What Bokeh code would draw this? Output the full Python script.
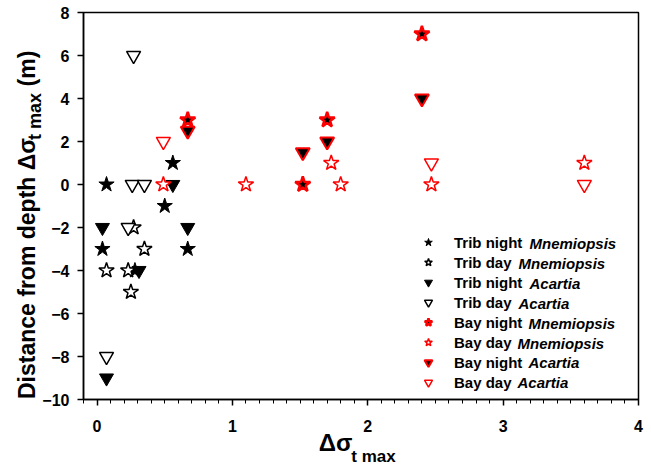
import math
from bokeh.plotting import figure
from bokeh.models import (Range1d, SingleIntervalTicker, FixedTicker, LinearAxis,
                          Legend, LegendItem, Label)
from bokeh.embed import file_html
from bokeh.resources import INLINE

# ---- data ----
trib_night_mnem_x = [0.07, 0.04, 0.56, 0.50, 0.67, 0.28]
trib_night_mnem_y = [0, -3, 1, -1, -3, -4]
trib_day_mnem_x = [0.07, 0.23, 0.27, 0.35, 0.25]
trib_day_mnem_y = [-4, -4, -2, -3, -5]
trib_night_acartia_x = [0.04, 0.07, 0.31, 0.56, 0.67]
trib_night_acartia_y = [-2, -9, -4, 0, -2]
trib_day_acartia_x = [0.27, 0.26, 0.35, 0.23, 0.07]
trib_day_acartia_y = [6, 0, 0, -2, -8]
bay_night_mnem_x = [0.67, 1.52, 1.70, 2.40]
bay_night_mnem_y = [3, 0, 3, 7]
bay_day_mnem_x = [0.49, 1.10, 1.73, 1.80, 2.47, 3.60]
bay_day_mnem_y = [0, 0, 1, 0, 0, 1]
bay_night_acartia_x = [0.67, 1.52, 1.70, 2.40]
bay_night_acartia_y = [2.5, 1.5, 2, 4]
bay_day_acartia_x = [0.49, 2.47, 3.60]
bay_day_acartia_y = [2, 1, 0]

legend_prefix = ["Trib night", "Trib day", "Trib night", "Trib day",
                 "Bay night", "Bay day", "Bay night", "Bay day"]
legend_genus = ["Mnemiopsis", "Mnemiopsis", "Acartia", "Acartia",
                "Mnemiopsis", "Mnemiopsis", "Acartia", "Acartia"]

x_label_main, x_label_sub = "Δσ", "t max"
y_label_main, y_label_sub, y_label_unit = "Distance from depth Δσ", "t max", "(m)"

X0, X1 = -0.1, 4.0
Y0, Y1 = -10, 8
W, H = 651, 468
FL, FR, FT, FB = 83, 638, 12, 399

FONT = "Liberation Sans"

p = figure(width=W, height=H, output_backend="svg", toolbar_location=None,
           x_range=Range1d(X0, X1), y_range=Range1d(Y0, Y1),
           min_border_left=FL, min_border_right=W - FR,
           min_border_top=FT, min_border_bottom=H - FB)
p.xgrid.visible = False
p.ygrid.visible = False
p.outline_line_color = "black"
p.outline_line_width = 1.5
p.background_fill_color = "white"
p.border_fill_color = "white"

p.xaxis.ticker = SingleIntervalTicker(interval=1, num_minor_ticks=10)
p.yaxis.ticker = SingleIntervalTicker(interval=2, num_minor_ticks=0)
for ax in (p.xaxis[0], p.yaxis[0]):
    ax.axis_line_color = "black"
    ax.axis_line_width = 1.5
    ax.major_tick_line_color = "black"
    ax.major_tick_line_width = 1.5
    ax.minor_tick_line_color = "black"
    ax.minor_tick_line_width = 1
    ax.major_tick_in = 0
    ax.minor_tick_in = 0
    ax.major_label_text_font = FONT
    ax.major_label_text_font_style = "bold"
    ax.major_label_text_font_size = "16px"
    ax.major_label_text_color = "black"
p.xaxis.major_tick_out = 6
p.xaxis.minor_tick_out = 4
p.yaxis.major_tick_out = 6
p.xaxis.major_label_standoff = 14
p.yaxis.major_label_standoff = 8

def px2x(px):
    return X0 + (px - FL) * (X1 - X0) / (FR - FL)

def py2y(py):
    return Y0 + (FB - py) * (Y1 - Y0) / (FB - FT)

S = 14
r1 = p.scatter(trib_night_mnem_x, trib_night_mnem_y, marker="star", size=S + 2,
               fill_color="black", line_color="black")
r2 = p.scatter(trib_day_mnem_x, trib_day_mnem_y, marker="star", size=S + 2,
               fill_color="white", line_color="black", line_width=1.5)
r3 = p.scatter(trib_night_acartia_x, trib_night_acartia_y, marker="inverted_triangle",
               size=S, fill_color="black", line_color="black")
r4 = p.scatter(trib_day_acartia_x, trib_day_acartia_y, marker="inverted_triangle",
               size=S, fill_color="white", line_color="black", line_width=1.5)
r5 = p.scatter(bay_night_mnem_x, bay_night_mnem_y, marker="star", size=S + 2,
               fill_color="black", line_color="red", line_width=2.5)
r6 = p.scatter(bay_day_mnem_x, bay_day_mnem_y, marker="star", size=S + 2,
               fill_color="white", line_color="red", line_width=1.5)
r7 = p.scatter(bay_night_acartia_x, bay_night_acartia_y, marker="inverted_triangle",
               size=S, fill_color="black", line_color="red", line_width=2)
r8 = p.scatter(bay_day_acartia_x, bay_day_acartia_y, marker="inverted_triangle",
               size=S, fill_color="white", line_color="red", line_width=1.5)

rends = [r1, r2, r3, r4, r5, r6, r7, r8]
legend = Legend(items=[LegendItem(label=t, renderers=[r]) for t, r in zip(legend_prefix, rends)],
                location=(335, 7), orientation="vertical",
                label_text_font=FONT, label_text_font_style="bold",
                label_text_font_size="15px", label_text_color="black",
                glyph_width=20, glyph_height=20, label_height=20, label_standoff=16,
                spacing=0, padding=0, margin=0,
                border_line_color=None, background_fill_alpha=0)
p.add_layout(legend)

# genus names in italics, after each legend prefix
prefix_w = {"Trib night": 75, "Trib day": 64, "Bay night": 74, "Bay day": 63}
for i, (pre, g) in enumerate(zip(legend_prefix, legend_genus)):
    cy = 243 + i * 19.9
    p.add_layout(Label(x=px2x(454 + prefix_w[pre]), y=py2y(cy), text=g,
                       text_font=FONT, text_font_style="bold italic",
                       text_font_size="15px", text_baseline="middle",
                       text_align="left", text_color="black"))

# axis titles with subscripts, drawn as tick labels of extra, line-less axes
def text_axis(side, ticks, labels, size, standoff, orientation="horizontal"):
    ax = LinearAxis(ticker=FixedTicker(ticks=ticks, minor_ticks=[]),
                    major_label_overrides={t: l for t, l in zip(ticks, labels)},
                    axis_line_color=None, major_tick_line_color=None,
                    minor_tick_line_color=None, major_tick_out=0, major_tick_in=0,
                    minor_tick_out=0, minor_tick_in=0,
                    major_label_standoff=standoff, major_label_text_font=FONT,
                    major_label_text_font_style="bold",
                    major_label_text_font_size=size, major_label_text_color="black",
                    major_label_orientation=orientation)
    p.add_layout(ax, side)

# x title: "Δσ" then subscript "t max"
text_axis("below", [round(px2x(335), 4)], [x_label_main], "24px", -6)
text_axis("below", [round(px2x(373), 4)], [x_label_sub], "17px", -12)
# y title (vertical): subscript closer to the axis, main text further out
text_axis("left", [round(py2y(116), 4)], [y_label_sub], "18px", -6, "vertical")
text_axis("left", [round(py2y(268), 4), round(py2y(68), 4)],
          [y_label_main, y_label_unit], "23px", -18, "vertical")

open("out.html", "w").write(file_html(p, INLINE))
